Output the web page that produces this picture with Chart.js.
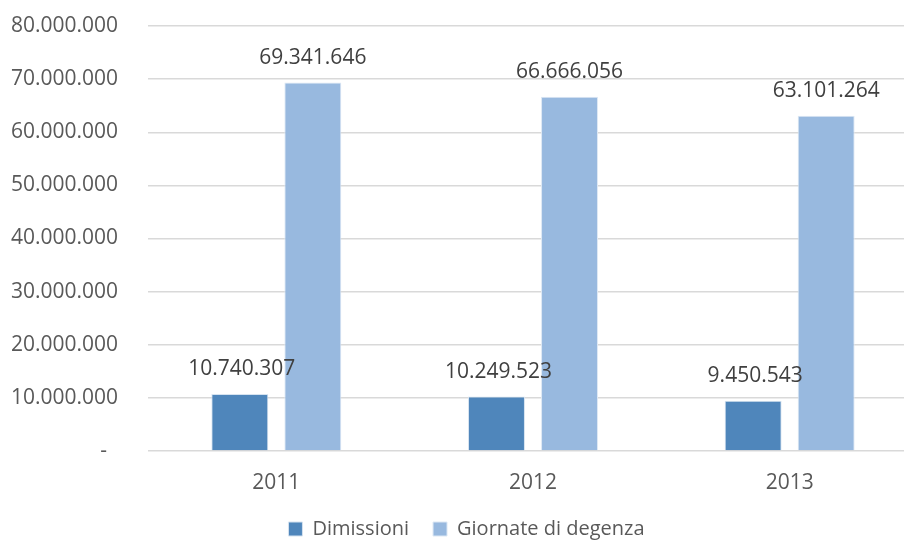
<!DOCTYPE html>
<html>
<head>
<meta charset="utf-8">
<script src="https://cdn.jsdelivr.net/npm/chart.js@4/dist/chart.umd.min.js"></script>
<style>
  html, body { margin: 0; padding: 0; background: #fff; overflow: hidden; }
  #wrap { width: 904px; height: 545px; overflow: hidden; position: relative; }
  canvas { display: block; }
</style>
</head>
<body>
<div id="wrap"><canvas id="chart" width="933" height="549"></canvas></div>
<script>
// Ricoveri ospedalieri per anno
const anni = ['2011', '2012', '2013'];
const dimissioni = [10740307, 10249523, 9450543];
const giornateDegenza = [69341646, 66666056, 63101264];
const tickValori = [0, 10000000, 20000000, 30000000, 40000000, 50000000, 60000000, 70000000, 80000000];

const coloreTesto = '#595959';

// Formato con separatore delle migliaia a punto; lo zero diventa "-"
function formatoIt(v) {
  if (v === 0) return '-';
  return String(Math.round(v)).replace(/\B(?=(\d{3})+(?!\d))/g, '.');
}

// Etichette dei valori sopra ogni barra
const etichetteValori = {
  id: 'etichetteValori',
  afterDatasetsDraw(chart) {
    const ctx = chart.ctx;
    ctx.save();
    ctx.font = "21px 'Open Sans'";
    ctx.fillStyle = '#404040';
    ctx.textAlign = 'center';
    ctx.textBaseline = 'middle';
    chart.data.datasets.forEach((ds, i) => {
      chart.getDatasetMeta(i).data.forEach((bar, j) => {
        ctx.fillText(formatoIt(ds.data[j]), bar.x + (i === 0 ? 2 : 0), bar.y - 25);
      });
    });
    ctx.restore();
  }
};

Chart.defaults.font.family = "'Open Sans'";
Chart.defaults.font.size = 21;
Chart.defaults.color = coloreTesto;

new Chart(document.getElementById('chart'), {
  type: 'bar',
  data: {
    labels: anni,
    datasets: [
      {
        label: 'Dimissioni',
        data: dimissioni,
        backgroundColor: '#4f86bb',
        borderColor: '#d6e3f0',
        borderWidth: 1,
        categoryPercentage: 0.569,
        barPercentage: 0.78
      },
      {
        label: 'Giornate di degenza',
        data: giornateDegenza,
        backgroundColor: '#98b9df',
        borderColor: '#dde8f4',
        borderWidth: 1,
        categoryPercentage: 0.569,
        barPercentage: 0.78
      }
    ]
  },
  options: {
    responsive: false,
    animation: false,
    layout: { padding: { top: 26, right: 0, left: 0, bottom: 0 } },
    plugins: {
      legend: {
        position: 'bottom',
        labels: {
          boxWidth: 14,
          boxHeight: 14,
          padding: 24,
          color: coloreTesto,
          font: { size: 20 }
        }
      },
      tooltip: { enabled: false }
    },
    scales: {
      x: {
        grid: { display: false, drawTicks: false },
        border: { display: false },
        ticks: { padding: 19, color: coloreTesto },
        afterFit(scale) { scale.height = 44; }
      },
      y: {
        min: 0,
        max: 80000000,
        afterBuildTicks(scale) {
          scale.ticks = tickValori.map(v => ({ value: v }));
        },
        afterFit(scale) {
          scale.width = 148;
          scale.paddingTop = 12;
          scale.paddingBottom = 12;
        },
        grid: { color: '#d9d9d9', lineWidth: 1.5, drawTicks: false },
        border: { display: false },
        ticks: {
          padding: 30,
          color: coloreTesto,
          // il trattino dello zero resta rientrato come nel formato contabile
          callback: v => (v === 0 ? '-  ' : formatoIt(v))
        }
      },
      // margine destro dell'area del grafico
      margineDx: {
        type: 'linear',
        position: 'right',
        min: 0,
        max: 1,
        grid: { display: false, drawTicks: false },
        border: { display: false },
        ticks: { display: false },
        afterFit(scale) { scale.width = 15; }
      }
    }
  },
  plugins: [etichetteValori]
});
</script>
</body>
</html>
